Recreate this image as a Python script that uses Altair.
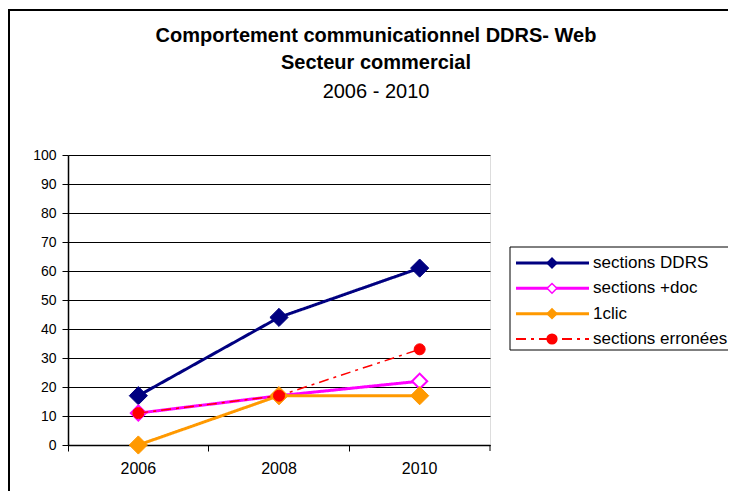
import altair as alt
import pandas as pd

# ---- data ----
years = ["2006", "2008", "2010"]
series_names = ["sections DDRS", "sections +doc", "1clic", "sections erronées"]
ddrs = [17, 44, 61]
plus_doc = [11, 17, 22]
one_clic = [0, 17, 17]
erronees = [11, 17, 33]
y_ticks = [0, 10, 20, 30, 40, 50, 60, 70, 80, 90, 100]

# ---- styles ----
colors = ["#000080", "#FF00FF", "#FF9900", "#FF0000"]
fills = ["#000080", "#FFFFFF", "#FF9900", "#FF0000"]
shapes = ["diamond", "diamond", "diamond", "circle"]
point_sizes = [330, 230, 330, 121]
point_strokes = [1, 2, 1, 1]
line_widths = [3, 3, 3, 1.5]
dashes = [[1, 0], [1, 0], [1, 0], [10, 5, 3, 5]]

values = [ddrs, plus_doc, one_clic, erronees]
df = pd.DataFrame(
    [{"year": y, "value": v, "series": s}
     for s, vals in zip(series_names, values) for y, v in zip(years, vals)]
)
legend_df = pd.DataFrame({"series": series_names})

FONT = "Liberation Sans"
W, H = 422, 290

x_enc = alt.X(
    "year:O", sort=years,
    scale=alt.Scale(type="band", domain=years, paddingInner=0, paddingOuter=0),
    axis=alt.Axis(title=None, bandPosition=0, labelAngle=0,
                  tickSize=6, tickColor="#000", tickWidth=1,
                  domainColor="#000", domainWidth=1.5,
                  labelFont=FONT, labelFontSize=16, labelColor="#000",
                  labelPadding=9, grid=False),
)
y_enc = alt.Y(
    "value:Q",
    scale=alt.Scale(domain=[0, 100], nice=False),
    axis=alt.Axis(title=None, values=y_ticks, grid=True, gridColor="#000",
                  gridWidth=1, domainColor="#000", domainWidth=1.5,
                  tickColor="#000", tickSize=6, labelFont=FONT,
                  labelFontSize=14, labelColor="#000", labelPadding=6),
)

main_layers = []
for i, name in enumerate(series_names):
    sub = df[df["series"] == name]
    base = alt.Chart(sub)
    line = base.mark_line(
        color=colors[i], strokeWidth=line_widths[i], strokeDash=dashes[i]
    ).encode(x=x_enc, y=y_enc)
    pts = base.mark_point(
        shape=shapes[i], filled=True, fill=fills[i], stroke=colors[i],
        strokeWidth=point_strokes[i], size=point_sizes[i], opacity=1,
    ).encode(x=x_enc, y=y_enc)
    main_layers += [line, pts]

# last x tick at the right edge of the plot
end_tick = alt.Chart(legend_df.head(1)).mark_rule(color="#000", strokeWidth=1).encode(
    x=alt.value(W), y=alt.value(H), y2=alt.value(H + 6)
)
# outer chart frame
frame = alt.Chart(legend_df.head(1)).mark_rect(
    fill=None, fillOpacity=0, stroke="#000", strokeWidth=2
).encode(x=alt.value(-59), x2=alt.value(700), y=alt.value(-145), y2=alt.value(380))

main = alt.layer(frame, *main_layers, end_tick)

# ---- legend (built from the series names) ----
ly = alt.Y("series:N", sort=series_names,
           scale=alt.Scale(type="point", domain=series_names, range=[108, 184], padding=0),
           axis=None)
col = alt.Color("series:N", scale=alt.Scale(domain=series_names, range=colors), legend=None)

leg_box = alt.Chart(legend_df.head(1)).mark_rect(
    fill="white", stroke="#000", strokeWidth=1
).encode(x=alt.value(442), x2=alt.value(666), y=alt.value(92), y2=alt.value(195))

leg_solid = alt.Chart(legend_df).transform_filter(
    alt.datum.series != series_names[3]
).mark_rule(strokeWidth=3).encode(
    x=alt.value(448), x2=alt.value(521), y=ly, color=col
)
leg_dash = alt.Chart(legend_df).transform_filter(
    alt.datum.series == series_names[3]
).mark_rule(strokeWidth=2, strokeDash=[10, 5, 3, 5]).encode(
    x=alt.value(448), x2=alt.value(521), y=ly, color=col
)
leg_pts = alt.Chart(legend_df).mark_point(filled=True, size=95, opacity=1, strokeWidth=1.5).encode(
    x=alt.value(484), y=ly,
    stroke=alt.Stroke("series:N", scale=alt.Scale(domain=series_names, range=colors), legend=None),
    fill=alt.Fill("series:N", scale=alt.Scale(domain=series_names, range=fills), legend=None),
    shape=alt.Shape("series:N", scale=alt.Scale(domain=series_names, range=shapes), legend=None),
)
leg_text = alt.Chart(legend_df).mark_text(
    align="left", baseline="middle", font=FONT, fontSize=17, color="#000"
).encode(x=alt.value(525), y=ly, text="series:N")

legend = alt.layer(leg_box, leg_solid, leg_dash, leg_pts, leg_text)

chart = alt.layer(main, legend).resolve_scale(y="independent").properties(
    width=W, height=H,
    autosize=alt.AutoSizeParams(type="none"),
    padding={"left": 60, "top": 147, "right": 238, "bottom": 46},
    title=alt.TitleParams(
        text=["Comportement communicationnel DDRS- Web", "Secteur commercial"],
        subtitle="2006 - 2010",
        anchor="middle", dx=97, offset=-93,
        font=FONT, fontSize=20, fontWeight="bold", color="#000", lineHeight=27,
        subtitleFont=FONT, subtitleFontSize=20, subtitleColor="#000",
        subtitlePadding=9,
    ),
).configure_view(stroke="#a0a0a0", strokeWidth=2).configure(background="white")

chart.save("out.html", embed_options={"renderer": "svg", "actions": False})
